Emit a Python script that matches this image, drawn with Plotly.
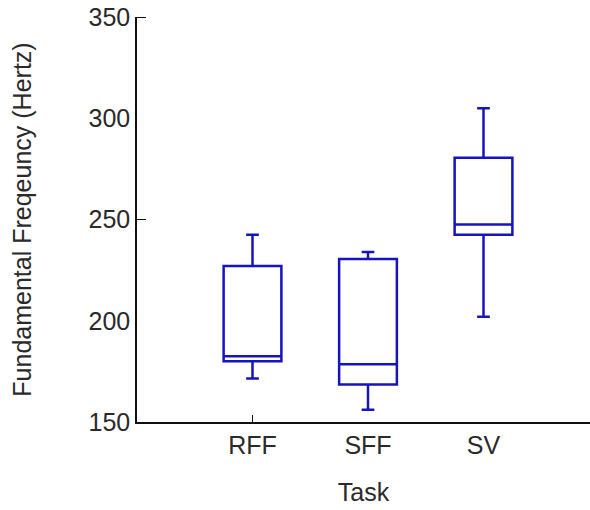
import plotly.graph_objects as go

categories = ["RFF", "SFF", "SV"]
positions = [1, 2, 3]
lower_whisker = [171.5, 156.0, 202.0]
q1 = [180.0, 168.5, 242.5]
median = [182.5, 178.5, 247.5]
q3 = [227.0, 230.5, 280.5]
upper_whisker = [242.5, 234.0, 305.0]
y_ticks = [150, 200, 250, 300, 350]

fig = go.Figure()
fig.add_trace(go.Box(
    x=positions,
    q1=q1, median=median, q3=q3,
    lowerfence=lower_whisker, upperfence=upper_whisker,
    width=0.5,
    whiskerwidth=0.22,
    line=dict(color="#1414c0", width=2.5),
    fillcolor="rgba(255,255,255,0)",
    boxpoints=False,
    showlegend=False,
))

fnt = dict(family="Liberation Sans, Arial, sans-serif", size=25, color="#2a2a2a")
fig.update_layout(
    width=590, height=510,
    margin=dict(l=137, r=0, t=17, b=88),
    paper_bgcolor="white", plot_bgcolor="white",
    font=fnt,
    xaxis=dict(
        range=[0, 3.922], tickmode="array", tickvals=positions, ticktext=categories,
        ticks="", showgrid=False, zeroline=False, automargin=False,
        showline=True, linecolor="#111", linewidth=1.5,
        title=dict(text="Task", font=fnt, standoff=26),
        minor=dict(tickmode="array", tickvals=[1], ticks="inside", ticklen=7,
                   tickcolor="#111", tickwidth=1),
    ),
    yaxis=dict(
        range=[150, 350], tickmode="array", tickvals=y_ticks,
        ticks="", showgrid=False, zeroline=False, automargin=False,
        showline=True, linecolor="#111", linewidth=1.5,
        title=dict(text="Fundamental Freqeuncy (Hertz)", font=fnt, standoff=50),
        minor=dict(tickmode="array", tickvals=[250, 350], ticks="inside", ticklen=9,
                   tickcolor="#111", tickwidth=1),
    ),
)
fig.write_html("out.html", config={"displayModeBar": False},
               post_script="document.body.style.margin='0';")
